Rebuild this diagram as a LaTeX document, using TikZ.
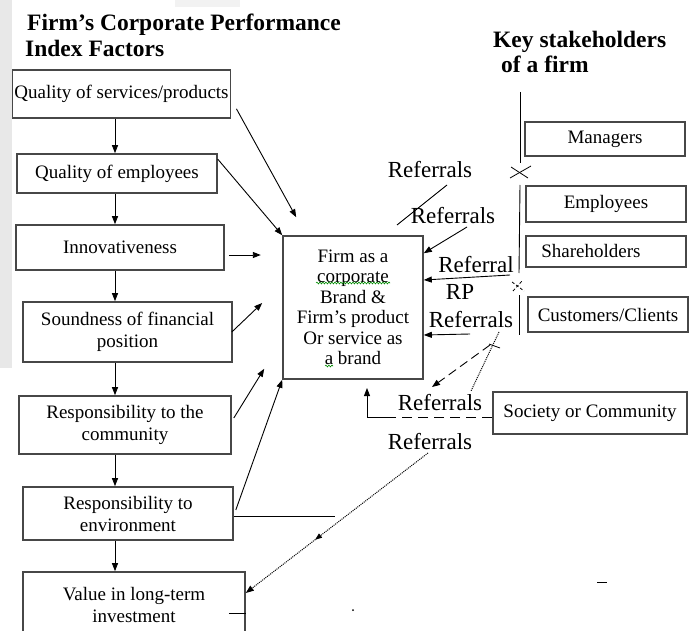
\documentclass[tikz,border=0pt]{standalone}
\usepackage{fontspec}
\setmainfont{Liberation Serif}
\usetikzlibrary{arrows.meta,calc,decorations.markings,decorations.pathmorphing}
\begin{document}
\begin{tikzpicture}[x=1pt,y=-1pt,
  box/.style={draw=black!72, line width=1.6pt, inner sep=2pt, align=center, font=\fontsize{19}{22}\selectfont},
  cbox/.style={box, font=\fontsize{19}{20.5}\selectfont},
  sbox/.style={box, minimum width=160pt},
  arr/.style={-{Triangle[length=8pt,width=6pt]}, line width=0.9pt},
  plain/.style={line width=0.9pt},
  dotarr/.style={arr, line width=1pt, densely dotted},
  lbl/.style={font=\fontsize{23}{26}\selectfont, inner sep=0pt},
  ttl/.style={font=\bfseries\fontsize{23.5}{26}\selectfont, inner sep=0pt, anchor=base west},
  xmark/.style={line width=0.8pt},
  squig/.style={draw=green!55!black, line width=0.6pt, decorate, decoration={snake, amplitude=0.9pt, segment length=3pt}},
]
\useasboundingbox (0,0) rectangle (693,631);
% scan artefacts (grey strips)
\fill[gray!18] (0,0) rectangle (12,368);
\fill[gray!10] (175,0) rectangle (240,7);

% titles
\node[ttl] (t1) at (27,31) {Firm’s Corporate Performance};
\node[ttl] (t2) at (25,57) {Index Factors};
\node[ttl] (t3) at (493,48) {Key stakeholders};
\node[ttl] (t4) at (501,73) {of a firm};

% left column
\node[box, minimum width=213pt, minimum height=48pt] (b1) at (121.5,94) {Quality of services/products};
\node[box, minimum width=200pt, minimum height=39pt] (b2) at (117,173.5) {Quality of employees};
\node[box, minimum width=208pt, minimum height=45pt] (b3) at (120,247.5) {Innovativeness};
\node[box, minimum width=209pt, minimum height=60pt] (b4) at (127.5,332) {Soundness of financial\\position};
\node[box, minimum width=212pt, minimum height=58pt] (b5) at (125,425) {Responsibility to the\\community};
\node[box, minimum width=210pt, minimum height=53pt] (b6) at (128,513.5) {Responsibility to\\environment};
\node[box, minimum width=222pt, minimum height=66pt] (b7) at (134,605) {Value in long-term\\investment};

% central box
\node[cbox, minimum width=140pt, minimum height=143pt] (C) at (353,307.5) {Firm as a\\corporate\\Brand \&\\Firm's product\\Or service as\\a brand};
\draw[squig] (316,283) -- (390,283);
\draw[squig] (325,366) -- (333,366);

% stakeholders
\node[sbox, minimum height=34pt] (M) at (605,139) {Managers};
\node[sbox, minimum height=36pt] (E) at (606,204) {Employees};
\node[sbox, minimum height=31pt] (S) at (606,251.5) {Shareholders\hspace*{30pt}};
\node[sbox, minimum height=35pt] (CC) at (608,314.5) {Customers/Clients};
\node[box, minimum width=194pt, minimum height=42pt] (Soc) at (590,413) {Society or Community};

% referral labels
\node[lbl] (r1) at (430,170) {Referrals};
\node[lbl] (r2) at (453,216) {Referrals};
\node[lbl] (r3) at (476,265) {Referral};
\node[lbl] (r4) at (460,292) {RP};
\node[lbl] (r5) at (471,320) {Referrals};
\node[lbl] (r6) at (440,403) {Referrals};
\node[lbl] (r7) at (430,442) {Referrals};

% left column vertical arrows
\coordinate (ax) at (115,0);
\draw[arr] (b1.south -| ax) -- (b2.north -| ax);
\draw[arr] (b2.south -| ax) -- (b3.north -| ax);
\draw[arr] (b3.south -| ax) -- (b4.north -| ax);
\draw[arr] (b4.south -| ax) -- (b5.north -| ax);
\draw[arr] (b5.south -| ax) -- (b6.north -| ax);
\draw[arr] (b6.south -| ax) -- (b7.north -| ax);

% arrows from factors to the central box
\draw[arr] ($(b1.south east)+(5,-10)$) -- ($(C.north west)+(14,-18)$);
\draw[arr] ($(b2.north east)+(0,6)$) -- (C.north west);
\draw[arr] ($(b3.east)+(4,7.5)$) -- ($(b3.east)+(36,7.5)$);
\draw[arr] ($(b4.east)+(-1,0)$) -- ($(C.west)+(-20,-4.5)$);
\draw[arr] ($(b5.east)+(2,-7)$) -- ($(C.south west)+(-18,-11)$);
\draw[arr] ($(b6.east)+(2,-3.5)$) -- (C.south west);
\coordinate (h1) at (335,516);
\draw[plain] ($(b6.east)+(0,2.5)$) -- (h1);

% stakeholder separator line with crosses
\coordinate (v1) at (520,92);
\coordinate (v2) at (520,163);
\coordinate (v3) at (520,185);
\coordinate (v4) at (519,273);
\coordinate (v5) at (519,295);
\coordinate (v6) at (519,335);
\draw[plain] (v1) -- (v2);
\draw[plain] (v3) -- (v4);
\draw[plain] (v5) -- (v6);
\draw[xmark] (511,167) -- (528,178);
\draw[xmark] (510,178) -- (531,166);
\draw[xmark, densely dashed] (512,282) -- (524,291);
\draw[xmark, densely dashed] (513,291) -- (522,281);

% referral connectors into the central box
\coordinate (p1) at (447,185);
\coordinate (p2) at (397,225);
\draw[plain] (p1) -- (p2);
\coordinate (p3) at (467,227);
\draw[arr] (p3) -- ($(C.north east)+(0,18)$);
\coordinate (p4) at (510,275);
\draw[arr] (p4) -- ($(C.east)+(0,-27.5)$);
\coordinate (p5) at (470,334);
\draw[arr] (p5) -- ($(C.east)+(0,27.5)$);
\coordinate (p6) at (490,345);
\coordinate (p7) at (432,387);
\draw[arr, dashed, dash pattern=on 9pt off 5pt] (p6) -- (p7);
\coordinate (p8) at (499,332);
\coordinate (p9) at (471,391);
\draw[line width=1pt, densely dotted] (p8) -- (p9);
\draw[xmark] (489,344) -- (500,348);

% society elbow arrow
\coordinate (e1) at (392,417);
\coordinate (e2) at (367,417);
\coordinate (e3) at (367,388);
\draw[plain, dashed, dash pattern=on 10pt off 6pt] ($(Soc.west)+(0,4)$) -- (e1);
\draw[arr] (e1) -- (e2) -- (e3);

% long dotted arrow to value box
\coordinate (d1) at (428,453);
\draw[dotarr, postaction={decorate}, decoration={markings, mark=at position 0.62 with {\arrow{Triangle[length=7pt,width=5pt]}}}] (d1) -- ($(b7.east)+(0,-12)$);
\draw[plain] ($(b7.east)+(-17,8)$) -- (b7.east |- 0,613);

% stray marks
\draw[line width=0.8pt] (597,582) -- (607,582);
\fill (353,610) circle (1pt);
\end{tikzpicture}
\end{document}
